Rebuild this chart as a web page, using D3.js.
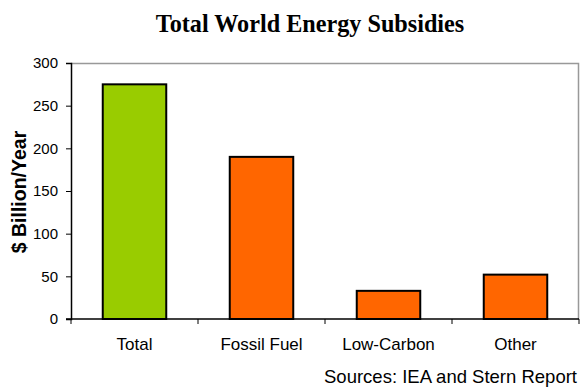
<!DOCTYPE html>
<html>
<head>
<meta charset="utf-8">
<script src="https://cdn.jsdelivr.net/npm/d3@7"></script>
<style>
  body { margin: 0; background: #fff; }
  text { font-family: "Liberation Sans", Arial, sans-serif; }
</style>
</head>
<body>
<div id="container"></div>
<script>
const categories = ["Total", "Fossil Fuel", "Low-Carbon", "Other"]
const values = [275, 190, 33, 52]
const barColors = ["#99cc00", "#ff6600", "#ff6600", "#ff6600"]
const yTicks = [0, 50, 100, 150, 200, 250, 300]

const width = 581, height = 387
const margin = { top: 63, right: 2, bottom: 68, left: 71 }
const innerW = width - margin.left - margin.right
const innerH = height - margin.top - margin.bottom

const svg = d3.select('#container')
    .append('svg').attr('width', width).attr('height', height)

svg.append('text')
    .attr('x', 310).attr('y', 32)
    .attr('text-anchor', 'middle')
    .style('font-family', '"Liberation Serif", "Times New Roman", serif')
    .style('font-weight', 'bold')
    .style('font-size', '24.2px')
    .text('Total World Energy Subsidies')

const g = svg.append('g').attr('transform', `translate(${margin.left},${margin.top})`)

const x = d3.scaleBand().domain(categories).range([0, innerW]).paddingInner(0).paddingOuter(0)
const y = d3.scaleLinear().domain([0, 300]).range([innerH, 0])

// plot frame (grey top and right)
g.append('path')
    .attr('d', `M0,0.5H${innerW - 0.5}V${innerH}`)
    .attr('fill', 'none').attr('stroke', '#999').attr('stroke-width', 1.5)

// bars
const bw = x.bandwidth() * 0.5
g.selectAll('.bar')
    .data(values)
    .enter()
    .append('rect')
    .attr('class', 'bar')
    .attr('x', (d, i) => x(categories[i]) + (x.bandwidth() - bw) / 2)
    .attr('y', d => y(d))
    .attr('width', bw)
    .attr('height', d => innerH - y(d))
    .attr('fill', (d, i) => barColors[i])
    .attr('stroke', '#000').attr('stroke-width', 2)

// y axis
const yAxis = g.append('g')
    .call(d3.axisLeft(y).tickValues(yTicks).tickSize(5).tickPadding(8))
yAxis.select('.domain').attr('stroke', '#000').attr('stroke-width', 1.5)
yAxis.selectAll('.tick line').attr('stroke', '#000')
yAxis.selectAll('text').style('font-size', '15px').attr('fill', '#000')

// x axis with boundary ticks
const xg = g.append('g').attr('transform', `translate(0,${innerH})`)
xg.append('line').attr('x1', -5).attr('x2', innerW).attr('stroke', '#000').attr('stroke-width', 1.5)
const bounds = categories.map(c => x(c)).concat([innerW])
xg.selectAll('.xt')
    .data(bounds)
    .enter()
    .append('line')
    .attr('x1', d => d).attr('x2', d => d)
    .attr('y1', 0).attr('y2', 5)
    .attr('stroke', '#000')
xg.selectAll('.xl')
    .data(categories)
    .enter()
    .append('text')
    .attr('x', d => x(d) + x.bandwidth() / 2)
    .attr('y', 31)
    .attr('text-anchor', 'middle')
    .style('font-size', '17px')
    .text(d => d)

svg.append('text')
    .attr('transform', `translate(26,192) rotate(-90)`)
    .attr('text-anchor', 'middle')
    .style('font-weight', 'bold')
    .style('font-size', '19.5px')
    .text('$ Billion/Year')

svg.append('text')
    .attr('x', 577).attr('y', 383)
    .attr('text-anchor', 'end')
    .style('font-size', '18.5px')
    .text('Sources: IEA and Stern Report')
</script>
</body>
</html>
